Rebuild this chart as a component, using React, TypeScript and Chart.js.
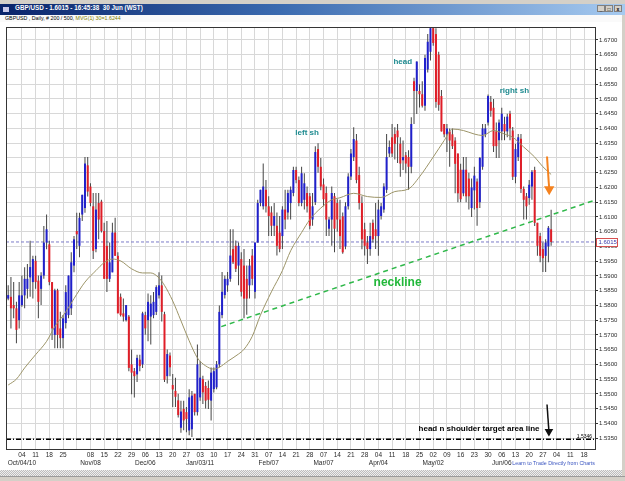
import React, { useEffect, useRef } from "react";
import { Chart, registerables } from "chart.js";

Chart.register(...registerables);

// Daily bars, index 0 = Mon 27 Sep 2010 ... index 198 = Thu 30 Jun 2011 (5 trading days / week)
const opens = [
  1.5823, 1.5829, 1.5801, 1.5790, 1.5750, 1.5801, 1.5834, 1.5856, 1.5895, 1.5879,
  1.5951, 1.5884, 1.5856, 1.5901, 1.6013, 1.6007, 1.5879, 1.5700, 1.5851, 1.5722,
  1.5689, 1.5740, 1.5767, 1.5790, 1.5935, 1.6052, 1.6002, 1.6108, 1.6130, 1.6275,
  1.6203, 1.6136, 1.5991, 1.6147, 1.6152, 1.6052, 1.6002, 1.5890, 1.5912, 1.6047,
  1.5968, 1.5829, 1.5773, 1.5750, 1.5762, 1.5600, 1.5577, 1.5566, 1.5616, 1.5600,
  1.5767, 1.5750, 1.5762, 1.5767, 1.5778, 1.5834, 1.5868, 1.5770, 1.5560, 1.5630,
  1.5530, 1.5510, 1.5478, 1.5385, 1.5449, 1.5438, 1.5376, 1.5380, 1.5500, 1.5438,
  1.5488, 1.5550, 1.5527, 1.5520, 1.5477, 1.5516, 1.5522, 1.5600, 1.5767, 1.5835,
  1.5868, 1.5890, 1.5991, 1.6002, 1.5935, 1.5957, 1.5935, 1.5890, 1.5868, 1.5969,
  1.5846, 1.6013, 1.6147, 1.6136, 1.6192, 1.6136, 1.6115, 1.6070, 1.6070, 1.6047,
  1.6035, 1.6125, 1.6115, 1.6147, 1.6181, 1.6259, 1.6225, 1.6147, 1.6158, 1.6181,
  1.6170, 1.6091, 1.6150, 1.6330, 1.6270, 1.6210, 1.6181, 1.6060, 1.6091, 1.6170,
  1.6147, 1.6091, 1.6102, 1.6000, 1.6136, 1.6237, 1.6303, 1.6359, 1.6242, 1.6147,
  1.6058, 1.6013, 1.5991, 1.6080, 1.6058, 1.6035, 1.6103, 1.6125, 1.6192, 1.6315,
  1.6370, 1.6381, 1.6393, 1.6348, 1.6292, 1.6309, 1.6303, 1.6270, 1.6560, 1.6527,
  1.6527, 1.6516, 1.6477, 1.6600, 1.6660, 1.6740, 1.6720, 1.6650, 1.6510, 1.6415,
  1.6380, 1.6390, 1.6380, 1.6359, 1.6315, 1.6260, 1.6180, 1.6260, 1.6230, 1.6130,
  1.6190, 1.6220, 1.6150, 1.6270, 1.6380, 1.6420, 1.6490, 1.6470, 1.6390, 1.6360,
  1.6390, 1.6415, 1.6390, 1.6450, 1.6393, 1.6236, 1.6303, 1.6365, 1.6195, 1.6170,
  1.6164, 1.6203, 1.6259, 1.6080, 1.6035, 1.5991, 1.5968, 1.6000, 1.6058,
];
const highs = [
  1.5868, 1.5896, 1.5879, 1.5812, 1.5879, 1.5901, 1.5929, 1.5940, 1.6019, 1.5968,
  1.5968, 1.5901, 1.5912, 1.6069, 1.6108, 1.6019, 1.5879, 1.5856, 1.5856, 1.5778,
  1.5767, 1.5868, 1.5901, 1.5980, 1.6035, 1.6114, 1.6114, 1.6175, 1.6303, 1.6303,
  1.6214, 1.6181, 1.6181, 1.6181, 1.6158, 1.6080, 1.6086, 1.6013, 1.6080, 1.6097,
  1.5980, 1.5840, 1.5823, 1.5801, 1.5767, 1.5650, 1.5588, 1.5633, 1.5633, 1.5778,
  1.5778, 1.5840, 1.5834, 1.5845, 1.5868, 1.5912, 1.5901, 1.5778, 1.5650, 1.5640,
  1.5567, 1.5555, 1.5500, 1.5477, 1.5477, 1.5455, 1.5516, 1.5510, 1.5500, 1.5667,
  1.5611, 1.5561, 1.5540, 1.5545, 1.5589, 1.5589, 1.5611, 1.5800, 1.5913, 1.5901,
  1.5913, 1.6058, 1.6058, 1.6020, 1.6013, 1.5980, 1.5991, 1.5935, 1.5957, 1.5991,
  1.6013, 1.6158, 1.6192, 1.6281, 1.6225, 1.6170, 1.6136, 1.6147, 1.6115, 1.6103,
  1.6136, 1.6192, 1.6192, 1.6203, 1.6270, 1.6270, 1.6237, 1.6270, 1.6248, 1.6203,
  1.6181, 1.6181, 1.6340, 1.6350, 1.6300, 1.6230, 1.6203, 1.6100, 1.6203, 1.6181,
  1.6160, 1.6158, 1.6115, 1.6150, 1.6248, 1.6330, 1.6404, 1.6381, 1.6270, 1.6170,
  1.6080, 1.6035, 1.6080, 1.6091, 1.6147, 1.6158, 1.6147, 1.6214, 1.6381, 1.6359,
  1.6415, 1.6404, 1.6415, 1.6370, 1.6359, 1.6320, 1.6326, 1.6438, 1.6572, 1.6627,
  1.6550, 1.6560, 1.6650, 1.6720, 1.6760, 1.6760, 1.6740, 1.6660, 1.6530, 1.6415,
  1.6415, 1.6400, 1.6400, 1.6370, 1.6315, 1.6280, 1.6303, 1.6303, 1.6250, 1.6230,
  1.6270, 1.6230, 1.6303, 1.6415, 1.6415, 1.6515, 1.6510, 1.6500, 1.6420, 1.6430,
  1.6470, 1.6440, 1.6450, 1.6460, 1.6405, 1.6348, 1.6381, 1.6381, 1.6203, 1.6181,
  1.6225, 1.6259, 1.6270, 1.6080, 1.6046, 1.6013, 1.6024, 1.6069, 1.6124,
];
const lows = [
  1.5817, 1.5722, 1.5756, 1.5672, 1.5722, 1.5795, 1.5790, 1.5823, 1.5829, 1.5823,
  1.5856, 1.5756, 1.5801, 1.5890, 1.5990, 1.5868, 1.5683, 1.5655, 1.5655, 1.5655,
  1.5655, 1.5722, 1.5756, 1.5767, 1.5912, 1.5991, 1.5963, 1.6086, 1.6114, 1.6169,
  1.6136, 1.5957, 1.5980, 1.6024, 1.6047, 1.5890, 1.5845, 1.5879, 1.5912, 1.5968,
  1.5773, 1.5762, 1.5745, 1.5745, 1.5577, 1.5499, 1.5488, 1.5540, 1.5577, 1.5588,
  1.5700, 1.5678, 1.5667, 1.5756, 1.5767, 1.5823, 1.5745, 1.5540, 1.5535, 1.5560,
  1.5455, 1.5455, 1.5420, 1.5368, 1.5377, 1.5370, 1.5360, 1.5354, 1.5427, 1.5427,
  1.5477, 1.5466, 1.5450, 1.5449, 1.5410, 1.5505, 1.5516, 1.5589, 1.5756, 1.5823,
  1.5846, 1.5880, 1.5940, 1.5913, 1.5868, 1.5830, 1.5756, 1.5768, 1.5823, 1.5868,
  1.5823, 1.6013, 1.6136, 1.6125, 1.6115, 1.6035, 1.6035, 1.6035, 1.5969, 1.5980,
  1.5991, 1.6058, 1.6091, 1.6091, 1.6170, 1.6214, 1.6136, 1.6136, 1.6125, 1.6115,
  1.6058, 1.6070, 1.6140, 1.6250, 1.6190, 1.6136, 1.6035, 1.6035, 1.6002, 1.5980,
  1.6050, 1.5991, 1.5975, 1.5990, 1.6125, 1.6225, 1.6290, 1.6214, 1.6125, 1.5990,
  1.5969, 1.5940, 1.5968, 1.6013, 1.5991, 1.5968, 1.6091, 1.6114, 1.6181, 1.6303,
  1.6303, 1.6295, 1.6283, 1.6236, 1.6259, 1.6248, 1.6192, 1.6248, 1.6415, 1.6449,
  1.6471, 1.6471, 1.6460, 1.6590, 1.6630, 1.6680, 1.6470, 1.6460, 1.6390, 1.6370,
  1.6320, 1.6270, 1.6330, 1.6180, 1.6150, 1.6150, 1.6170, 1.6150, 1.6125, 1.6100,
  1.6125, 1.6070, 1.6130, 1.6260, 1.6370, 1.6410, 1.6440, 1.6320, 1.6300, 1.6300,
  1.6360, 1.6360, 1.6370, 1.6360, 1.6225, 1.6214, 1.6290, 1.6181, 1.6091, 1.6091,
  1.6141, 1.6158, 1.6069, 1.5968, 1.5946, 1.5913, 1.5913, 1.5946, 1.6002,
];
const closes = [
  1.5835, 1.5790, 1.5790, 1.5717, 1.5834, 1.5834, 1.5890, 1.5890, 1.5930, 1.5957,
  1.5879, 1.5812, 1.5901, 1.6013, 1.6058, 1.5879, 1.5722, 1.5851, 1.5700, 1.5689,
  1.5756, 1.5845, 1.5901, 1.5946, 1.6024, 1.6041, 1.6097, 1.6175, 1.6281, 1.6186,
  1.6147, 1.5985, 1.6125, 1.6091, 1.6052, 1.5890, 1.5890, 1.5946, 1.6047, 1.5968,
  1.5773, 1.5767, 1.5762, 1.5801, 1.5588, 1.5572, 1.5560, 1.5622, 1.5594, 1.5773,
  1.5722, 1.5812, 1.5806, 1.5812, 1.5862, 1.5868, 1.5778, 1.5548, 1.5635, 1.5590,
  1.5515, 1.5490, 1.5428, 1.5440, 1.5410, 1.5415, 1.5488, 1.5494, 1.5438, 1.5600,
  1.5555, 1.5505, 1.5477, 1.5480, 1.5572, 1.5577, 1.5600, 1.5778, 1.5846, 1.5890,
  1.5890, 1.5969, 1.5946, 1.5924, 1.6002, 1.5846, 1.5823, 1.5823, 1.5935, 1.5890,
  1.6013, 1.6147, 1.6192, 1.6203, 1.6136, 1.6103, 1.6070, 1.6103, 1.6002, 1.5991,
  1.6125, 1.6091, 1.6181, 1.6192, 1.6259, 1.6225, 1.6147, 1.6248, 1.6214, 1.6136,
  1.6070, 1.6136, 1.6320, 1.6270, 1.6203, 1.6160, 1.6091, 1.6091, 1.6181, 1.6060,
  1.6091, 1.6035, 1.5980, 1.6136, 1.6237, 1.6315, 1.6364, 1.6225, 1.6147, 1.6024,
  1.6002, 1.5991, 1.6035, 1.6024, 1.6035, 1.6125, 1.6136, 1.6203, 1.6303, 1.6337,
  1.6315, 1.6348, 1.6370, 1.6281, 1.6303, 1.6281, 1.6270, 1.6415, 1.6527, 1.6627,
  1.6516, 1.6477, 1.6639, 1.6694, 1.6740, 1.6690, 1.6490, 1.6480, 1.6390, 1.6380,
  1.6400, 1.6359, 1.6340, 1.6280, 1.6180, 1.6160, 1.6260, 1.6170, 1.6170, 1.6200,
  1.6240, 1.6130, 1.6300, 1.6400, 1.6400, 1.6510, 1.6460, 1.6340, 1.6340, 1.6420,
  1.6450, 1.6390, 1.6440, 1.6400, 1.6236, 1.6330, 1.6370, 1.6195, 1.6158, 1.6136,
  1.6209, 1.6253, 1.6080, 1.6002, 1.5968, 1.5960, 1.6013, 1.6063, 1.6015,
];

// 30-period moving average, read at selected bars
const maIndex = [0, 3, 6, 10, 14, 17, 21, 24, 28, 32, 35, 38, 41, 45, 49, 52, 55, 57, 60, 63,
  66, 69, 72, 75, 77, 80, 84, 86, 89, 92, 96, 100, 103, 107, 110, 114, 118, 121, 126, 131,
  136, 141, 146, 150, 155, 159, 162, 166, 170, 173, 177, 181, 184, 188, 192, 195, 198];
const maValues = [1.5530, 1.5550, 1.5588, 1.5633, 1.5678, 1.5728, 1.5778, 1.5823, 1.5879, 1.5918,
  1.5945, 1.5957, 1.5951, 1.5924, 1.5910, 1.5910, 1.5893, 1.5868, 1.5815, 1.5748,
  1.5680, 1.5622, 1.5595, 1.5584, 1.5590, 1.5610, 1.5635, 1.5651, 1.5695, 1.5767,
  1.5846, 1.5918, 1.5985, 1.6047, 1.6091, 1.6130, 1.6158, 1.6165, 1.6180, 1.6169,
  1.6166, 1.6186, 1.6195, 1.6236, 1.6303, 1.6359, 1.6398, 1.6393, 1.6381, 1.6376,
  1.6393, 1.6381, 1.6370, 1.6337, 1.6303, 1.6270, 1.6244];

// Weekly (Monday) tick labels, starting Mon 04 Oct 2010
const weekDays = ["04", "11", "18", "25", "", "08", "15", "22", "29", "06", "13", "20", "27",
  "03", "10", "17", "24", "31", "07", "14", "21", "28", "07", "14", "21", "28", "04", "11",
  "18", "25", "02", "09", "16", "23", "30", "06", "13", "20", "27", "04", "11", "18"];
const weekMonths = ["Oct/04/10", "", "", "", "", "Nov/08", "", "", "", "Dec/06", "", "", "",
  "Jan/03/11", "", "", "", "", "Feb/07", "", "", "", "Mar/07", "", "", "", "Apr/04", "", "",
  "", "May/02", "", "", "", "", "Jun/06", "", "", "", "", "", ""];

const yMin = 1.5313;
const yMax = 1.6744;
const xMin = -0.8;
const xMax = 214;

const currentPrice = 1.6015;
const targetPrice = 1.5346;
const necklineIdx = [77.7, 214];
const necklinePrice = [1.5728, 1.6157];
const orangeArrowIdx = [196.5, 197.3];
const orangeArrowPrice = [1.6305, 1.6194];
const blackArrowIdx = [196.5, 197.2];
const blackArrowPrice = [1.5464, 1.5372];

const noteTexts = ["left sh", "head", "right sh", "neckline", "head n shoulder target area line"];
const noteIdx = [109.0, 143.9, 184.6, 142.0, 171.7];
const notePrice = [1.6385, 1.6626, 1.6526, 1.5876, 1.5383];

const FONT = "'Liberation Sans', Arial, sans-serif";
const BLUE = "#2020cc";
const RED = "#e01e28";
const WICK = "#444444";
const GRID = "#d8d8d8";
const TEAL = "#1d8a8f";
const NECK = "#2fb84a";
const noteColors = [TEAL, TEAL, TEAL, "#22b83a", "#000000"];
const noteFonts = ["bold 8px", "bold 8px", "bold 8px", "bold 12px", "bold 8px"];

const framePlugin = {
  id: "frame",
  afterDraw(chart: any) {
    const { ctx, chartArea: a, scales } = chart;
    const xs = scales.x;
    const ys = scales.y;
    ctx.save();
    ctx.strokeStyle = "#353535";
    ctx.lineWidth = 1;
    ctx.strokeRect(Math.round(a.left) + 0.5, Math.round(a.top) + 0.5, Math.round(a.right - a.left), Math.round(a.bottom - a.top));
    ctx.textAlign = "center";
    ctx.textBaseline = "middle";
    noteTexts.forEach((t, k) => {
      ctx.font = `${noteFonts[k]} ${FONT}`;
      ctx.fillStyle = noteColors[k];
      ctx.fillText(t, xs.getPixelForValue(noteIdx[k]), ys.getPixelForValue(notePrice[k]));
    });
    // target price tag
    const yt = ys.getPixelForValue(targetPrice);
    ctx.font = `5px ${FONT}`;
    ctx.fillStyle = "#000";
    ctx.textAlign = "right";
    ctx.fillText(targetPrice.toFixed(4), a.right - 3, yt - 3);
    // current price box on axis
    const yc = Math.round(ys.getPixelForValue(currentPrice));
    ctx.fillStyle = "#ffffff";
    ctx.fillRect(a.right + 1, yc - 4, 22, 8);
    ctx.strokeStyle = "#d65050";
    ctx.strokeRect(a.right + 1.5, yc - 3.5, 21, 8);
    ctx.fillStyle = "#3a3aa8";
    ctx.font = `6px ${FONT}`;
    ctx.textAlign = "left";
    ctx.fillText(currentPrice.toFixed(4), a.right + 3.5, yc + 0.5);
    ctx.restore();
  },
};

export default function App() {
  const ref = useRef<HTMLCanvasElement>(null);

  useEffect(() => {
    const canvas = ref.current;
    if (!canvas) return;
    const idx = opens.map((_, i) => i);
    const wickData = idx.map((i) => ({ x: i, y: [lows[i], highs[i]] }));
    const bodyData = idx.map((i) => ({ x: i, y: [opens[i], closes[i]] }));
    const bodyColors = idx.map((i) => (closes[i] >= opens[i] ? BLUE : RED));
    const maData = maIndex.map((v, k) => ({ x: v, y: maValues[k] }));

    const chart = new Chart(canvas, {
      type: "bar",
      data: {
        datasets: [
          {
            type: "line",
            data: orangeArrowIdx.map((v, k) => ({ x: v, y: orangeArrowPrice[k] })),
            borderColor: "#f5821f",
            borderWidth: 2,
            pointRadius: [0, 4],
            pointStyle: "triangle",
            rotation: 180,
            pointBackgroundColor: "#f5821f",
            pointBorderColor: "#f5821f",
            order: 0,
          } as any,
          {
            type: "line",
            data: blackArrowIdx.map((v, k) => ({ x: v, y: blackArrowPrice[k] })),
            borderColor: "#111",
            borderWidth: 1.5,
            pointRadius: [0, 3.5],
            pointStyle: "triangle",
            rotation: 180,
            pointBackgroundColor: "#111",
            pointBorderColor: "#111",
            order: 0,
          } as any,
          {
            type: "line",
            data: necklineIdx.map((v, k) => ({ x: v, y: necklinePrice[k] })),
            borderColor: NECK,
            borderWidth: 1.5,
            borderDash: [5, 4],
            pointRadius: 0,
            order: 1,
          } as any,
          {
            type: "line",
            data: [{ x: xMin, y: targetPrice }, { x: xMax, y: targetPrice }],
            borderColor: "#000",
            borderWidth: 1.6,
            borderDash: [5, 2, 1, 2],
            pointRadius: 0,
            order: 1,
          } as any,
          {
            type: "line",
            data: maData,
            borderColor: "#9c9468",
            borderWidth: 1,
            pointRadius: 0,
            cubicInterpolationMode: "monotone",
            order: 3,
          } as any,
          {
            type: "bar",
            data: bodyData,
            backgroundColor: bodyColors,
            barThickness: 2,
            grouped: false,
            borderWidth: 0,
            inflateAmount: 0,
            order: 4,
          } as any,
          {
            type: "bar",
            data: wickData,
            backgroundColor: WICK,
            barThickness: 1,
            grouped: false,
            borderWidth: 0,
            inflateAmount: 0,
            order: 5,
          } as any,
          {
            type: "line",
            data: [{ x: xMin, y: currentPrice }, { x: xMax, y: currentPrice }],
            borderColor: "#7b7bc8",
            borderWidth: 1,
            borderDash: [3, 2],
            pointRadius: 0,
            order: 10,
          } as any,
        ],
      },
      options: {
        animation: false,
        responsive: false,
        devicePixelRatio: 1,
        events: [],
        layout: { padding: { left: 4, top: 1, right: 0, bottom: 0 } },
        plugins: { legend: { display: false }, tooltip: { enabled: false } },
        scales: {
          x: {
            type: "linear",
            min: xMin,
            max: xMax,
            offset: false,
            grid: { offset: false, color: GRID, drawTicks: false, lineWidth: 1 },
            border: { display: false },
            afterBuildTicks: (s: any) => {
              s.ticks = weekDays.map((_, k) => ({ value: (k + 1) * 5 }));
            },
            afterFit: (s: any) => {
              s.height = 21;
            },
            ticks: {
              autoSkip: false,
              maxRotation: 0,
              minRotation: 0,
              padding: 2,
              color: "#2a2a2a",
              font: { family: FONT, size: 6.5, lineHeight: 1.3 },
              callback: (v: any) => {
                const k = Math.round(Number(v) / 5) - 1;
                if (k < 0 || k >= weekDays.length) return "";
                return weekMonths[k] ? [weekDays[k], weekMonths[k]] : weekDays[k];
              },
            },
          } as any,
          y: {
            position: "right",
            min: yMin,
            max: yMax,
            grid: { color: GRID, tickColor: "#333", tickLength: 3, drawTicks: true },
            border: { display: false },
            afterFit: (s: any) => {
              s.width = 30;
            },
            ticks: {
              stepSize: 0.005,
              includeBounds: false,
              padding: 1,
              color: "#2a2a2a",
              font: { family: FONT, size: 6 },
              callback: (v: any) => Number(v).toFixed(4),
            },
          } as any,
        },
      } as any,
      plugins: [framePlugin],
    });
    return () => chart.destroy();
  }, []);

  const btn = (left: number, ch: string) => (
    <div
      style={{
        position: "absolute", left, top: 5, width: 8, height: 7, background: "#d4d0c8",
        border: "1px solid #808080", boxSizing: "border-box", font: `bold 5px ${FONT}`,
        lineHeight: "6px", textAlign: "center", color: "#000",
      }}
    >
      {ch}
    </div>
  );

  return (
    <div style={{ position: "fixed", left: 0, top: 0, width: 625, height: 481, background: "#fff", overflow: "hidden", fontFamily: FONT }}>
      <div style={{ position: "absolute", left: 0, top: 0, width: 625, height: 4, background: "#d4d0c8" }} />
      <div
        style={{
          position: "absolute", left: 0, top: 4, width: 625, height: 11,
          background: "linear-gradient(to right, #0a246a 0%, #3b6bb0 45%, #a6caf0 100%)",
        }}
      >
        <div style={{ position: "absolute", left: 3, top: 3, width: 6, height: 5, background: "#c8c8e8" }} />
        <span style={{ position: "absolute", left: 15, top: 0, lineHeight: "11px", color: "#fff", font: `bold 6.3px ${FONT}`, whiteSpace: "pre" }}>
          GBP/USD - 1.6015 - 16:45:38  30 Jun (WST)
        </span>
      </div>
      {btn(597, "_")}
      {btn(605, "□")}
      {btn(614, "x")}
      <div style={{ position: "absolute", left: 0, top: 15, width: 625, height: 7, background: "#fafafa" }}>
        <span style={{ position: "absolute", left: 5, top: 0, lineHeight: "7px", font: `5.3px ${FONT}`, color: "#000", whiteSpace: "pre" }}>
          GBPUSD , Daily, # 200 / 500, <span style={{ color: "#808000" }}>MVG(1) 30=1.6244</span>
        </span>
      </div>
      <div style={{ position: "absolute", left: 0, top: 21, width: 625, height: 449 }}>
        <canvas ref={ref} width={625} height={449} style={{ display: "block", width: 625, height: 449 }} />
      </div>
      <div style={{ position: "absolute", left: 470, top: 460, width: 125, textAlign: "right", lineHeight: "8px", font: `5.3px ${FONT}`, color: "#3a55c0", whiteSpace: "pre" }}>
        Learn to Trade Directly from Charts
      </div>
      <div
        style={{
          position: "absolute", left: 0, top: 470, width: 625, height: 6,
          background: "repeating-conic-gradient(#bdbdbd 0% 25%, #eeeeee 0% 50%) 0 0 / 2px 2px",
        }}
      />
      <div style={{ position: "absolute", left: 0, top: 476, width: 625, height: 5, background: "#d4d0c8", borderTop: "1px solid #9a9a9a" }} />
      <div style={{ position: "absolute", left: 622, top: 15, width: 3, height: 461, background: "#d4d0c8" }} />
    </div>
  );
}
